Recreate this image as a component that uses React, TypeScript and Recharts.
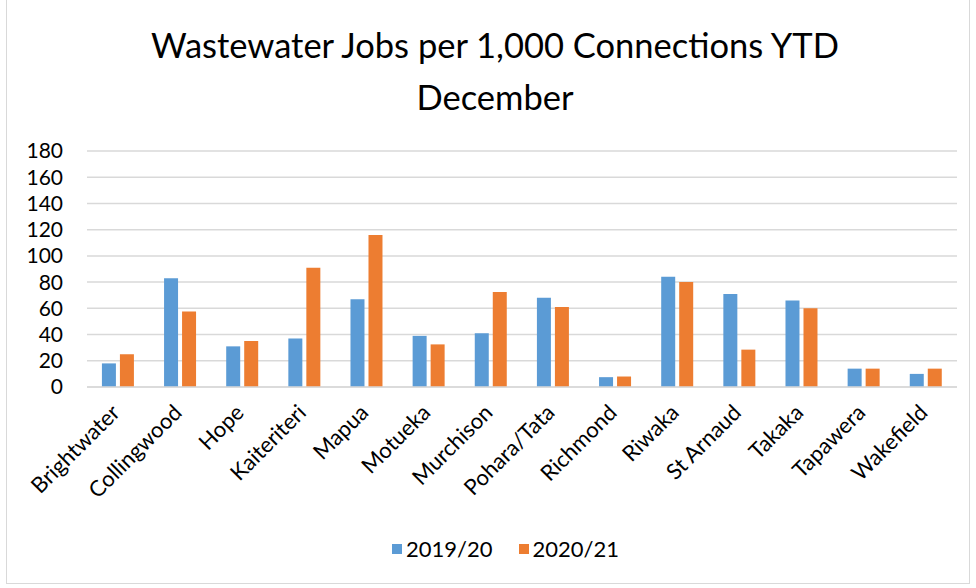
import React from 'react';
import { BarChart, Bar, XAxis, YAxis, CartesianGrid } from 'recharts';

const categories = ['Brightwater', 'Collingwood', 'Hope', 'Kaiteriteri', 'Mapua', 'Motueka', 'Murchison', 'Pohara/Tata', 'Richmond', 'Riwaka', 'St Arnaud', 'Takaka', 'Tapawera', 'Wakefield'];
const series2019 = [18, 83, 31, 37, 67, 39, 41, 68, 7.5, 84, 71, 66, 14, 10];
const series2020 = [25, 57.5, 35, 91, 116, 32.5, 72.5, 61, 8, 80, 28.5, 60, 14, 14];
const yTicks = [0, 20, 40, 60, 80, 100, 120, 140, 160, 180];
const seriesNames = ['2019/20', '2020/21'];

const data = categories.map((c, i) => ({ name: c, a: series2019[i], b: series2020[i] }));

const FONT = 'Lato, "Open Sans", sans-serif';
const BLUE = '#5B9BD5';
const ORANGE = '#ED7D31';

const XTick = (props: any) => {
  const { x, y, payload } = props;
  const ax = x + 3;
  const ay = y + 19;
  return (
    <text
      x={ax}
      y={ay}
      textAnchor="end"
      transform={`rotate(-45, ${ax}, ${ay})`}
      fontFamily={FONT}
      fontSize={22}
      fill="#000"
    >
      {payload.value}
    </text>
  );
};

export default function App() {
  return (
    <div style={{ position: 'absolute', left: 0, top: 0, width: 976, height: 588, background: '#fff', fontFamily: FONT }}>
      <div style={{ position: 'absolute', left: 6, top: -2, width: 964, height: 586, border: '1px solid #D9D9D9', boxSizing: 'border-box' }} />
      <div style={{ position: 'absolute', left: 0, top: 19, width: 990, textAlign: 'center', fontSize: 34.5, lineHeight: '52px', color: '#000' }}>
        Wastewater Jobs per 1,000 Connections YTD<br />December
      </div>
      <div style={{ position: 'absolute', left: 0, top: 0 }}>
        <BarChart
          width={976}
          height={588}
          data={data}
          margin={{ top: 151, right: 19, bottom: 71, left: 27 }}
          barCategoryGap="24%"
          barGap={4}
        >
          <CartesianGrid vertical={false} stroke="#D9D9D9" strokeWidth={1.5} />
          <XAxis
            dataKey="name"
            height={130}
            interval={0}
            tick={<XTick />}
            tickLine={false}
            axisLine={{ stroke: '#D9D9D9', strokeWidth: 1.5 }}
          />
          <YAxis
            width={60}
            domain={[0, 180]}
            ticks={yTicks}
            interval={0}
            tickLine={false}
            axisLine={false}
            tickSize={0}
            tickMargin={24}
            tick={{ fontFamily: FONT, fontSize: 21, fill: '#000' }}
          />
          <Bar dataKey="a" name={seriesNames[0]} fill={BLUE} isAnimationActive={false} />
          <Bar dataKey="b" name={seriesNames[1]} fill={ORANGE} isAnimationActive={false} />
        </BarChart>
      </div>
      <div style={{ position: 'absolute', left: 392, top: 535, display: 'flex', alignItems: 'center', fontSize: 22, color: '#000', whiteSpace: 'nowrap' }}>
        <span style={{ display: 'inline-block', width: 10, height: 10, background: BLUE, marginRight: 4 }} />
        <span>{seriesNames[0]}</span>
        <span style={{ display: 'inline-block', width: 10, height: 10, background: ORANGE, marginLeft: 26, marginRight: 4 }} />
        <span>{seriesNames[1]}</span>
      </div>
    </div>
  );
}
